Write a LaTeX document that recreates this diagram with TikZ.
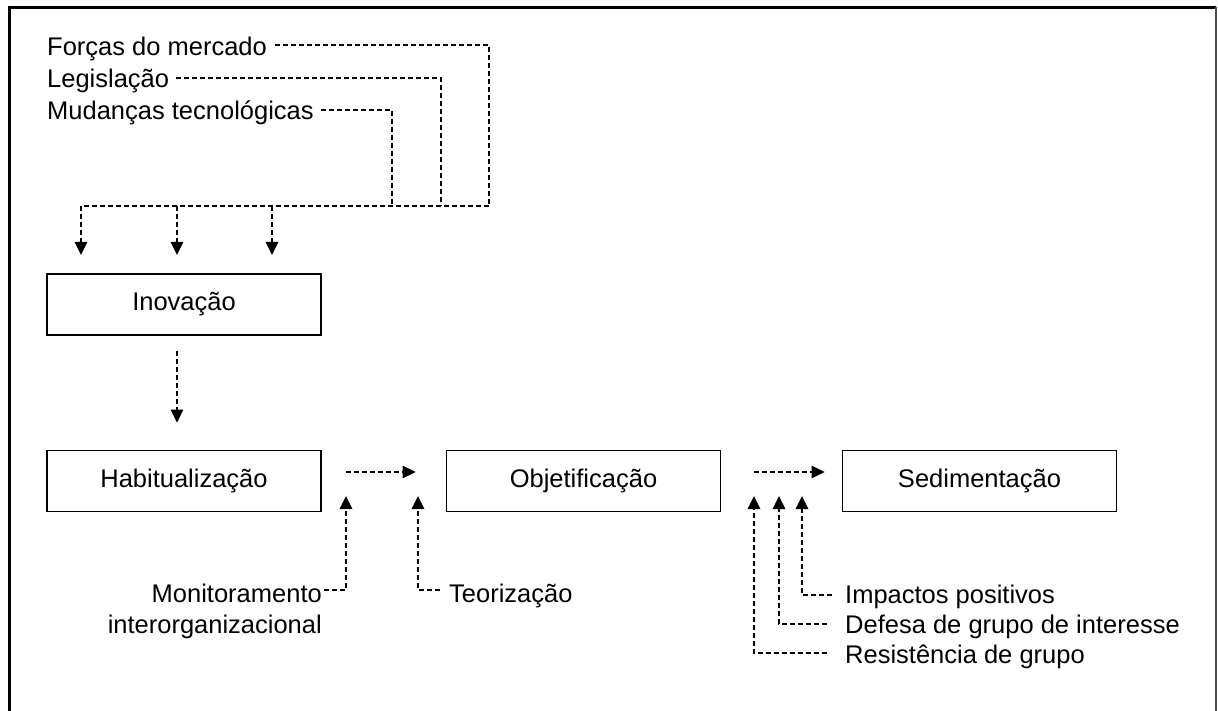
\documentclass[tikz,border=0pt]{standalone}
\usepackage{fontspec}
\setmainfont{Liberation Sans}
\usetikzlibrary{arrows.meta}
\begin{document}
\begin{tikzpicture}[x=1pt,y=-1pt,
  lbl/.style={font=\fontsize{25.5}{31}\selectfont, inner sep=0pt, text=black},
  box/.style={draw=black, line width=1.8pt, minimum width=274pt, minimum height=61pt,
              inner sep=0pt, font=\fontsize{25.5}{31}\selectfont},
  dl/.style={line width=1.3pt, dash pattern=on 5pt off 3pt},
  arr/.style={dl, -{Triangle[length=13pt,width=12.5pt]}}]
\useasboundingbox (0,0) rectangle (1218,711);
\fill[white] (0,0) rectangle (1218,711);

% outer frame
\draw[line width=3pt] (9.5,720) -- (9.5,7.5) -- (1216,7.5);
\draw[line width=1.5pt, black!70] (1216,7.5) -- (1216,720);

% external drivers
\node[lbl, anchor=base west] (forcas) at (47,56) {Forças do mercado};
\node[lbl, anchor=base west] (legis)  at (47,88) {Legislação};
\node[lbl, anchor=base west] (mudtec) at (47,120) {Mudanças tecnológicas};

\coordinate (jf) at (489,206);
\coordinate (jl) at (441,206);
\coordinate (jm) at (392,206);
\coordinate (ja) at (81,206);
\coordinate (jb) at (177,206);
\coordinate (jc) at (272,206);

\draw[dl] ([xshift=8pt,yshift=11pt]forcas.base east) -| (jf);
\draw[dl] ([xshift=7pt,yshift=10pt]legis.base east) -| (jl);
\draw[dl] ([xshift=7pt,yshift=10pt]mudtec.base east) -| (jm);
\draw[dl] (jf) -- (ja);

% process boxes
\node[box] (inov)  at (184,304.5) {Inovação};
\node[box] (habit) at (184,481) {Habitualização};
\node[box] (objet) at (583.5,481) {Objetificação};
\node[box] (sedim) at (979.5,481) {Sedimentação};

\draw[arr] (ja) -- (ja |- 0,255);
\draw[arr] (jb) -- (jb |- 0,255);
\draw[arr] (jc) -- (jc |- 0,255);

\draw[arr] ([xshift=-7pt,yshift=-15pt]inov.south) -- ([xshift=-7pt,yshift=27pt]habit.north);
\draw[arr] ([shift={(24pt,9pt)}]habit.east) -- ([shift={(-30pt,9pt)}]objet.west);
\draw[arr] ([shift={(33pt,9pt)}]objet.east) -- ([shift={(-17pt,9pt)}]sedim.west);

% influencing factors
\coordinate (mtip) at (346,496);
\coordinate (ttip) at (418,496);
\coordinate (itip) at (802,496);
\coordinate (dtip) at (779,496);
\coordinate (rtip) at (754,496);

\node[lbl, anchor=base east] (monit)  at (322,602) {Monitoramento};
\node[lbl, anchor=base east] (monit2) at (322,633) {interorganizacional};
\node[lbl, anchor=base west] (teor)   at (449,602) {Teorização};
\node[lbl, anchor=base west] (impac)  at (845,603) {Impactos positivos};
\node[lbl, anchor=base west] (defesa) at (845,633) {Defesa de grupo de interesse};
\node[lbl, anchor=base west] (resist) at (845,663) {Resistência de grupo};

\draw[arr] ([xshift=2pt,yshift=12pt]monit.base east) -| (mtip);
\draw[arr] ([xshift=-9pt,yshift=12pt]teor.base west) -| (ttip);
\draw[arr] ([xshift=-13pt,yshift=8pt]impac.base west) -| (itip);
\draw[arr] ([xshift=-18pt,yshift=9pt]defesa.base west) -| (dtip);
\draw[arr] ([xshift=-18pt,yshift=10pt]resist.base west) -| (rtip);
\end{tikzpicture}
\end{document}
